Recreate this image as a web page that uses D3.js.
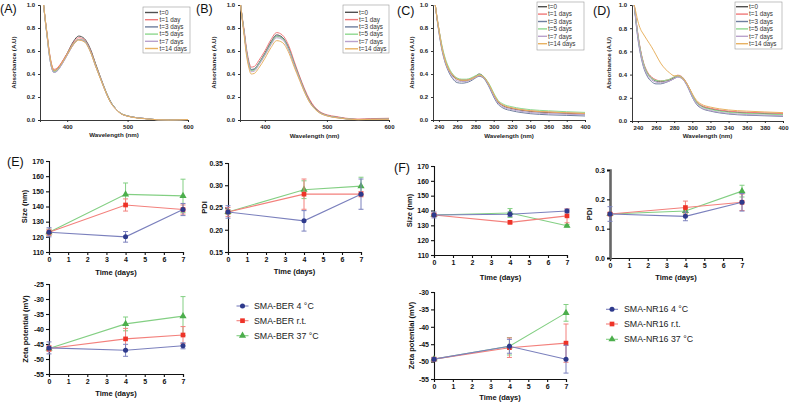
<!DOCTYPE html>
<html><head><meta charset="utf-8">
<script src="https://cdn.jsdelivr.net/npm/d3@7"></script>
<style>body{margin:0;background:#fff;} svg{display:block;font-family:"Liberation Sans",Arial,sans-serif;}</style>
</head><body>
<svg id="chart" width="791" height="404"></svg>
<script>
// ---------- Spectra data ----------
const legendAB = ["t=0","t=1 day","t=3 days","t=5 days","t=7 days","t=14 days"];
const legendCD = ["t=0","t=1 days","t=3 days","t=5 days","t=7 days","t=14 days"];
const absTicks = [0,0.2,0.4,0.6,0.8,1.0];
const wlTicksAB = [400,500,600];
const wlTicksCD = [240,260,280,300,320,340,360,380,400];

const wlAB = [361,364,367,370,374,378,383,390,400,410,419,428,439,447,456,464,472,480,488,500,515,530,550,570,600];
const A_t0  = [1.0,0.86,0.73,0.60,0.48,0.43,0.44,0.49,0.58,0.68,0.73,0.71,0.61,0.49,0.36,0.25,0.16,0.10,0.06,0.035,0.02,0.012,0.002,0.0,0.004];
const A_t1  = [1.0,0.86,0.74,0.61,0.49,0.44,0.45,0.495,0.58,0.67,0.715,0.70,0.60,0.48,0.355,0.245,0.155,0.10,0.06,0.035,0.02,0.012,0.002,0.0,0.004];
const A_t3  = [1.0,0.85,0.72,0.58,0.46,0.415,0.425,0.475,0.565,0.655,0.70,0.69,0.59,0.47,0.35,0.24,0.155,0.10,0.06,0.035,0.02,0.012,0.002,0.0,0.004];
const A_t5  = [1.0,0.85,0.72,0.585,0.465,0.42,0.43,0.48,0.57,0.66,0.70,0.69,0.59,0.475,0.35,0.245,0.155,0.10,0.06,0.035,0.02,0.012,0.002,0.0,0.004];
const A_t7  = [1.0,0.85,0.715,0.578,0.458,0.413,0.423,0.473,0.563,0.652,0.698,0.688,0.588,0.468,0.348,0.24,0.153,0.098,0.058,0.034,0.02,0.012,0.002,0.0,0.004];
const A_t14 = [1.0,0.86,0.73,0.60,0.48,0.43,0.44,0.485,0.57,0.655,0.695,0.68,0.585,0.47,0.345,0.24,0.15,0.095,0.058,0.033,0.018,0.01,0.002,0.0,0.004];

const B_t0  = [1.0,0.87,0.75,0.61,0.49,0.435,0.44,0.49,0.58,0.68,0.74,0.72,0.62,0.50,0.37,0.26,0.17,0.11,0.07,0.04,0.025,0.012,0.004,0.006,0.008];
const B_t1  = [1.0,0.88,0.77,0.64,0.52,0.46,0.465,0.515,0.60,0.70,0.76,0.74,0.64,0.515,0.38,0.27,0.18,0.115,0.075,0.045,0.03,0.016,0.008,0.012,0.015];
const B_t3  = [1.0,0.87,0.75,0.62,0.50,0.44,0.445,0.49,0.575,0.67,0.73,0.715,0.615,0.495,0.365,0.255,0.165,0.105,0.068,0.04,0.024,0.012,0.004,0.006,0.008];
const B_t5  = [1.0,0.87,0.745,0.61,0.49,0.43,0.435,0.485,0.57,0.665,0.725,0.71,0.61,0.49,0.36,0.25,0.16,0.102,0.065,0.038,0.022,0.011,0.004,0.005,0.007];
const B_t7  = [1.0,0.86,0.74,0.60,0.48,0.42,0.425,0.475,0.56,0.655,0.715,0.70,0.60,0.48,0.355,0.245,0.158,0.1,0.064,0.037,0.021,0.01,0.003,0.005,0.007];
const B_t14 = [1.0,0.85,0.72,0.58,0.46,0.40,0.405,0.45,0.535,0.63,0.69,0.675,0.58,0.465,0.345,0.24,0.155,0.098,0.062,0.036,0.02,0.01,0.003,0.005,0.006];

const wlCD = [236,238,240,243,246,250,255,260,265,270,275,280,284,288,292,296,300,305,310,320,330,340,360,380,400];
const C_t0  = [1.0,0.88,0.78,0.64,0.54,0.45,0.385,0.355,0.345,0.345,0.355,0.38,0.40,0.385,0.345,0.29,0.22,0.155,0.125,0.10,0.085,0.075,0.065,0.058,0.052];
const C_t1  = [1.0,0.89,0.79,0.65,0.55,0.46,0.395,0.36,0.35,0.35,0.36,0.375,0.385,0.375,0.34,0.29,0.225,0.16,0.13,0.105,0.09,0.08,0.07,0.062,0.056];
const C_t3  = [1.0,0.87,0.76,0.62,0.52,0.43,0.36,0.325,0.32,0.325,0.34,0.365,0.38,0.37,0.33,0.27,0.20,0.135,0.105,0.08,0.065,0.055,0.045,0.04,0.035];
const C_t5  = [1.0,0.89,0.79,0.66,0.56,0.47,0.40,0.365,0.355,0.355,0.365,0.385,0.395,0.385,0.35,0.30,0.235,0.17,0.14,0.115,0.10,0.09,0.08,0.072,0.066];
const C_t7  = [1.0,0.88,0.77,0.63,0.53,0.44,0.375,0.34,0.335,0.335,0.35,0.37,0.385,0.375,0.34,0.28,0.21,0.145,0.115,0.09,0.075,0.065,0.055,0.05,0.045];
const C_t14 = [1.0,0.88,0.78,0.64,0.54,0.45,0.39,0.355,0.345,0.345,0.355,0.375,0.39,0.38,0.345,0.29,0.225,0.16,0.13,0.105,0.09,0.08,0.07,0.063,0.058];

const D_t0  = [1.0,0.86,0.74,0.60,0.50,0.42,0.37,0.345,0.34,0.345,0.355,0.375,0.39,0.38,0.345,0.29,0.225,0.16,0.13,0.105,0.09,0.08,0.07,0.064,0.058];
const D_t1  = [1.0,0.87,0.75,0.61,0.51,0.43,0.38,0.355,0.345,0.35,0.36,0.38,0.395,0.385,0.35,0.295,0.23,0.165,0.135,0.11,0.095,0.085,0.075,0.07,0.065];
const D_t3  = [1.0,0.84,0.71,0.57,0.47,0.39,0.34,0.32,0.32,0.33,0.345,0.365,0.38,0.37,0.335,0.275,0.205,0.14,0.11,0.085,0.07,0.06,0.05,0.045,0.04];
const D_t5  = [1.0,0.86,0.74,0.60,0.50,0.42,0.37,0.35,0.345,0.35,0.36,0.38,0.39,0.38,0.345,0.29,0.225,0.16,0.125,0.10,0.085,0.075,0.065,0.06,0.055];
const D_t7  = [1.0,0.85,0.72,0.58,0.48,0.40,0.355,0.335,0.33,0.335,0.345,0.365,0.38,0.37,0.335,0.28,0.21,0.145,0.115,0.09,0.075,0.065,0.055,0.05,0.045];
const D_t14 = [1.0,0.93,0.86,0.79,0.75,0.70,0.64,0.57,0.50,0.45,0.415,0.39,0.39,0.375,0.345,0.295,0.235,0.175,0.145,0.12,0.105,0.095,0.085,0.078,0.072];

// ---------- Stability data ----------
const days = [0,4,7];
const dayTicks = [0,1,2,3,4,5,6,7];
const seriesE = ["SMA-BER 4 °C","SMA-BER r.t.","SMA-BER 37 °C"];
const seriesF = ["SMA-NR16 4 °C","SMA-NR16 r.t.","SMA-NR16 37 °C"];

const eSize4 = [123,120,138],     eSize4Err = [3,3.5,4];
const eSizeRT = [123,141,138],    eSizeRTErr = [2,4,3];
const eSize37 = [123,148,147],    eSize37Err = [2,7.5,11];
const ePdi4 = [0.24,0.22,0.28],   ePdi4Err = [0.014,0.023,0.034];
const ePdiRT = [0.24,0.28,0.28],  ePdiRTErr = [0.01,0.034,0.006];
const ePdi37 = [0.24,0.29,0.298], ePdi37Err = [0.005,0.02,0.02];
const eZeta4 = [-46.3,-47.1,-45.6],  eZeta4Err = [2,2,1];
const eZetaRT = [-46.5,-43.3,-42.0], eZetaRTErr = [1,3.5,2.8];
const eZeta37 = [-46.5,-38.3,-35.7], eZeta37Err = [0.5,2.3,6.5];

const fSize4 = [137,137.5,139.7],  fSize4Err = [2,1.5,1.2];
const fSizeRT = [137,132,136.4],   fSizeRTErr = [1,0.8,4.7];
const fSize37 = [137,138.3,129.7], fSize37Err = [0.5,3,0.8];
const fPdi4 = [0.15,0.142,0.19],   fPdi4Err = [0.025,0.015,0.03];
const fPdiRT = [0.15,0.172,0.19],  fPdiRTErr = [0.005,0.022,0.028];
const fPdi37 = [0.15,0.16,0.228],  fPdi37Err = [0.005,0.01,0.02];
const fZeta4 = [-49.3,-45.6,-49.3],  fZeta4Err = [0.5,2,4];
const fZetaRT = [-49.3,-46.0,-44.7], fZetaRTErr = [0.5,2.8,5.5];
const fZeta37 = [-49.3,-45.6,-36.0], fZeta37Err = [0.3,2.5,2.4];

// ---------- styles ----------
const specColors = ["#505050","#f07a7a","#6f7f9f","#8fd88f","#b9a2cc","#e8b262"];
const stabMarker = ["#2e3a8c","#ee3328","#4cae4c"];
const stabLine = ["#7b80bd","#f3807c","#83cf83"];
const shapes = [d3.symbolCircle, d3.symbolSquare, d3.symbolTriangle];
const shapeSize = [20, 22, 22];
const plainNum = d => String(d);

const svg = d3.select("#chart");

function panelLabel(txt, x, y){
  svg.append("text").attr("x",x).attr("y",y).attr("font-size",12.5).attr("fill","#111").text(txt);
}

function spectrum(c){
  const g = svg.append("g");
  const x = d3.scaleLinear().domain(c.xDomain).range(c.xRange);
  const y = d3.scaleLinear().domain([0,1]).range(c.yRange);
  const ax = g.append("g").attr("transform",`translate(0,${c.yRange[0]})`)
    .call(d3.axisBottom(x).tickValues(c.xTicks).tickSize(2).tickPadding(3).tickFormat(d3.format("d")));
  const ay = g.append("g").attr("transform",`translate(${c.xRange[0]},0)`)
    .call(d3.axisLeft(y).tickValues(absTicks).tickSize(2).tickPadding(3).tickFormat(d3.format(".1f")));
  [ax,ay].forEach(a=>{
    a.selectAll("path,line").attr("stroke","#222").attr("stroke-width",0.9);
    a.selectAll("text").attr("font-size",6).attr("font-weight","bold").attr("fill","#222").attr("font-family","Liberation Sans, Arial");
  });
  const line = d3.line().x((d,i)=>x(c.wl[i])).y(d=>y(d)).curve(d3.curveMonotoneX);
  c.series.forEach((s,i)=>{
    g.append("path").attr("d",line(s)).attr("fill","none").attr("stroke",specColors[i]).attr("stroke-width",1);
  });
  g.append("text").attr("x",(c.xRange[0]+c.xRange[1])/2).attr("y",c.xTitleY).attr("text-anchor","middle")
    .attr("font-size",6.2).attr("font-weight","bold").attr("fill","#222").text("Wavelength (nm)");
  g.append("text").attr("transform",`translate(${c.yTitleX},${(c.yRange[0]+c.yRange[1])/2}) rotate(-90)`)
    .attr("text-anchor","middle").attr("font-size",6.2).attr("font-weight","bold").attr("fill","#222").text("Absorbance (A.U)");
  const L = c.legend;
  g.append("rect").attr("x",L.x).attr("y",L.y).attr("width",L.w).attr("height",L.h)
    .attr("fill","#fff").attr("stroke","#999").attr("stroke-width",0.6);
  c.labels.forEach((lab,i)=>{
    const yy = L.row0 + i*L.step;
    g.append("line").attr("x1",L.lx0).attr("x2",L.lx1).attr("y1",yy).attr("y2",yy)
      .attr("stroke",specColors[i]).attr("stroke-width",1.4);
    g.append("text").attr("x",L.tx).attr("y",yy+2.2).attr("font-size",6.3).attr("fill","#333").text(lab);
  });
}

spectrum({xDomain:[355,600], xRange:[40,188], yRange:[120,5], xTicks:wlTicksAB, wl:wlAB,
  series:[A_t0,A_t1,A_t3,A_t5,A_t7,A_t14], labels:legendAB, xTitleY:137, yTitleX:16,
  legend:{x:143,y:7,w:47,h:46,row0:12.5,step:7.2,lx0:145,lx1:158,tx:159.5}});
spectrum({xDomain:[360,600], xRange:[240,389], yRange:[120,5], xTicks:wlTicksAB, wl:wlAB,
  series:[B_t0,B_t1,B_t3,B_t5,B_t7,B_t14], labels:legendAB, xTitleY:138, yTitleX:216,
  legend:{x:343,y:5,w:46,h:48,row0:12.3,step:7.3,lx0:345,lx1:358,tx:359}});
spectrum({xDomain:[233.5,400], xRange:[433,585], yRange:[120,5], xTicks:wlTicksCD, wl:wlCD,
  series:[C_t0,C_t1,C_t3,C_t5,C_t7,C_t14], labels:legendCD, xTitleY:138, yTitleX:414,
  legend:{x:537,y:2,w:47,h:48,row0:6.7,step:7.4,lx0:538,lx1:547,tx:548}});
spectrum({xDomain:[233.5,400], xRange:[632,783], yRange:[121,5], xTicks:wlTicksCD, wl:wlCD,
  series:[D_t0,D_t1,D_t3,D_t5,D_t7,D_t14], labels:legendCD, xTitleY:138, yTitleX:611,
  legend:{x:735,y:2,w:47,h:47,row0:6.7,step:7.4,lx0:736,lx1:748,tx:749}});

panelLabel("(A)",0,13);
panelLabel("(B)",196,13);
panelLabel("(C)",397,15);
panelLabel("(D)",593,15);
panelLabel("(E)",7,166);
panelLabel("(F)",394,172);

function stability(c){
  const g = svg.append("g");
  const x = d3.scaleLinear().domain([0,7]).range(c.xRange);
  const y = d3.scaleLinear().domain(c.yDomain).range(c.yRange);
  const ax = g.append("g").attr("transform",`translate(0,${c.yRange[0]})`)
    .call(d3.axisBottom(x).tickValues(dayTicks).tickSize(3).tickPadding(2).tickFormat(d3.format("d")));
  const ay = g.append("g").attr("transform",`translate(${c.xRange[0]},0)`)
    .call(d3.axisLeft(y).tickValues(c.yTicks).tickSize(3).tickPadding(2).tickFormat(c.fmt));
  [ax,ay].forEach(a=>{
    a.selectAll("path,line").attr("stroke","#111").attr("stroke-width",1.1);
    a.selectAll("text").attr("font-size",7).attr("font-weight","bold").attr("fill","#111").attr("font-family","Liberation Sans, Arial");
  });
  if(c.thickY) ay.select("path").attr("stroke","#666").attr("stroke-width",2.6);
  const line = d3.line().x((d,i)=>x(days[i])).y(d=>y(d));
  [2,1,0].forEach(k=>{
    const vals = c.vals[k], errs = c.errs[k];
    g.append("path").attr("d",line(vals)).attr("fill","none").attr("stroke",stabLine[k]).attr("stroke-width",1.1);
    vals.forEach((v,i)=>{
      const xx = x(days[i]);
      const y1 = y(v+errs[i]), y2 = y(v-errs[i]);
      g.append("line").attr("x1",xx).attr("x2",xx).attr("y1",y1).attr("y2",y2).attr("stroke",stabLine[k]).attr("stroke-width",1);
      [y1,y2].forEach(yy=>g.append("line").attr("x1",xx-2.5).attr("x2",xx+2.5).attr("y1",yy).attr("y2",yy).attr("stroke",stabLine[k]).attr("stroke-width",1));
      g.append("path").attr("d",d3.symbol().type(shapes[k]).size(shapeSize[k])()).attr("transform",`translate(${xx},${y(v)})`).attr("fill",stabMarker[k]);
    });
  });
  g.append("text").attr("x",(c.xRange[0]+c.xRange[1])/2).attr("y",c.xTitleY).attr("text-anchor","middle")
    .attr("font-size",7.5).attr("font-weight","bold").attr("fill","#111").text("Time (days)");
  g.append("text").attr("transform",`translate(${c.yTitleX},${(c.yRange[0]+c.yRange[1])/2}) rotate(-90)`)
    .attr("text-anchor","middle").attr("font-size",7.5).attr("font-weight","bold").attr("fill","#111").text(c.yTitle);
}

const sizeTicks = [110,120,130,140,150,160,170];
const ePdiTicks = [0.15,0.20,0.25,0.30,0.35];
const eZetaTicks = [-55,-50,-45,-40,-35,-30,-25];
const fPdiTicks = [0.0,0.1,0.2,0.3];
const fZetaTicks = [-55,-50,-45,-40,-35,-30];

stability({xRange:[49,183], yDomain:[110,170], yRange:[252,161], yTicks:sizeTicks, fmt:plainNum,
  vals:[eSize4,eSizeRT,eSize37], errs:[eSize4Err,eSizeRTErr,eSize37Err], xTitleY:275, yTitleX:27, yTitle:"Size (nm)"});
stability({xRange:[228,361], yDomain:[0.15,0.35], yRange:[252,163], yTicks:ePdiTicks, fmt:d3.format(".2f"),
  vals:[ePdi4,ePdiRT,ePdi37], errs:[ePdi4Err,ePdiRTErr,ePdi37Err], xTitleY:274, yTitleX:207, yTitle:"PDI"});
stability({xRange:[49,183], yDomain:[-55,-25], yRange:[374,284], yTicks:eZetaTicks, fmt:plainNum,
  vals:[eZeta4,eZetaRT,eZeta37], errs:[eZeta4Err,eZetaRTErr,eZeta37Err], xTitleY:396, yTitleX:28, yTitle:"Zeta potential (mV)"});
stability({xRange:[434,567], yDomain:[110,170], yRange:[255,166], yTicks:sizeTicks, fmt:plainNum,
  vals:[fSize4,fSizeRT,fSize37], errs:[fSize4Err,fSizeRTErr,fSize37Err], xTitleY:280, yTitleX:412, yTitle:"Size (nm)"});
stability({xRange:[610,742], yDomain:[0,0.3], yRange:[258,170], yTicks:fPdiTicks, fmt:d3.format(".1f"), thickY:true,
  vals:[fPdi4,fPdiRT,fPdi37], errs:[fPdi4Err,fPdiRTErr,fPdi37Err], xTitleY:280, yTitleX:592, yTitle:"PDI"});
stability({xRange:[434,566], yDomain:[-55,-30], yRange:[379,292], yTicks:fZetaTicks, fmt:plainNum,
  vals:[fZeta4,fZetaRT,fZeta37], errs:[fZeta4Err,fZetaRTErr,fZeta37Err], xTitleY:400, yTitleX:414, yTitle:"Zeta potential (mV)"});

function stabLegend(names, lx0, lx1, tx, rows){
  names.forEach((n,k)=>{
    const yy = rows[k];
    svg.append("line").attr("x1",lx0).attr("x2",lx1).attr("y1",yy).attr("y2",yy).attr("stroke",stabLine[k]).attr("stroke-width",1.1);
    svg.append("path").attr("d",d3.symbol().type(shapes[k]).size(shapeSize[k])()).attr("transform",`translate(${(lx0+lx1)/2},${yy})`).attr("fill",stabMarker[k]);
    svg.append("text").attr("x",tx).attr("y",yy+3).attr("font-size",8.8).attr("fill","#222").text(n);
  });
}
stabLegend(seriesE, 236.5, 248.5, 254, [306,320.7,335.7]);
stabLegend(seriesF, 606, 618, 624, [309.3,324,339.3]);
</script>
</body></html>
